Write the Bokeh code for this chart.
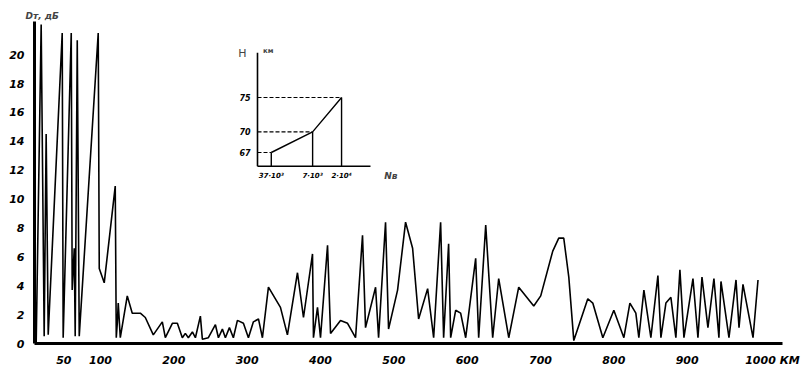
from bokeh.plotting import figure
from bokeh.models import Range1d, FixedTicker, Label
from bokeh.embed import file_html
from bokeh.resources import INLINE
from bokeh.core.properties import value

# ---- main series: distance (km) vs level (dB) ----
dist_km = [12.3, 19.1, 23.2, 25.9, 28.7, 47.8, 49.1, 60.1, 61.4, 64.2,
           65.5, 68.3, 71.0, 96.9, 98.3, 105.1, 120.1, 121.5, 122.9, 124.2,
           127.0, 136.5, 143.3, 154.3, 161.1, 172.0, 184.3, 188.4, 198.0, 204.8,
           211.6, 215.7, 219.8, 225.3, 229.4, 236.2, 238.9, 247.1, 256.7, 260.8,
           266.2, 270.3, 275.8, 281.2, 286.7, 294.9, 301.7, 308.5, 315.4, 320.8,
           329.0, 345.4, 354.9, 368.6, 376.8, 389.1, 390.4, 395.9, 400.0, 409.6,
           413.7, 427.3, 436.9, 447.8, 457.3, 461.4, 475.1, 479.2, 488.7, 492.8,
           505.1, 516.0, 525.6, 533.8, 546.1, 554.3, 563.8, 567.9, 574.7, 577.5,
           584.3, 591.1, 598.0, 611.6, 615.7, 625.3, 634.8, 643.0, 656.7, 670.3,
           690.8, 700.3, 716.7, 724.9, 731.7, 738.6, 745.4, 764.5, 771.3, 785.0,
           800.0, 813.7, 821.9, 830.0, 834.1, 841.0, 850.5, 860.1, 864.2, 871.0,
           877.8, 884.6, 890.1, 895.6, 907.9, 914.7, 920.2, 928.3, 936.5, 943.3,
           946.1, 957.0, 966.6, 970.7, 976.1, 989.8, 996.6]
level_db = [0, 22.1, 0.5, 14.5, 0.6, 21.5, 0.4, 21.5, 3.7, 6.6,
            0.5, 21.0, 0.5, 21.5, 5.2, 4.2, 10.9, 0.4, 1.4, 2.8,
            0.4, 3.3, 2.1, 2.1, 1.8, 0.6, 1.5, 0.4, 1.4, 1.4,
            0.4, 0.7, 0.4, 0.8, 0.4, 1.9, 0.3, 0.4, 1.3, 0.4,
            1.0, 0.4, 1.1, 0.4, 1.6, 1.4, 0.4, 1.5, 1.7, 0.4,
            3.9, 2.5, 0.6, 4.9, 1.8, 6.2, 0.4, 2.5, 0.4, 6.8,
            0.7, 1.6, 1.4, 0.4, 7.5, 1.1, 3.9, 0.4, 8.4, 1.0,
            3.7, 8.4, 6.6, 1.7, 3.8, 0.4, 8.4, 0.4, 6.9, 0.4,
            2.3, 2.1, 0.4, 5.9, 0.4, 8.2, 0.4, 4.5, 0.4, 3.9,
            2.6, 3.3, 6.4, 7.3, 7.3, 4.6, 0.2, 3.1, 2.8, 0.4,
            2.3, 0.4, 2.8, 2.1, 0.4, 3.7, 0.4, 4.7, 0.4, 2.8,
            3.2, 0.4, 5.1, 0.4, 4.5, 0.4, 4.6, 1.1, 4.5, 0.4,
            4.3, 0.4, 4.4, 1.1, 4.1, 0.4, 4.4]

x_ticks = [50, 100, 200, 300, 400, 500, 600, 700, 800, 900, 1000]
y_ticks = [0, 2, 4, 6, 8, 10, 12, 14, 16, 18, 20]
x_unit = "КМ"
x_unit_pos = 1040
y_title = "Dт, дБ"

# ---- inset: height H (km) vs Nв ----
inset_h = [67, 70, 75]
inset_n_pos = [0.5, 2.0, 3.05]
inset_n_labels = ["37·10³", "7·10³", "2·10⁴"]
inset_h_labels = ["67", "70", "75"]
inset_h_title = "H"
inset_h_unit = "км"
inset_n_title = "Nв"

FONT = "DejaVu Sans"

W, H = 801, 373
BL, BR, BT, BB = 34, 8, 21, 30
x0, x1, x_axis_end = 10, 1045, 1030
y0, y1 = 0, 22.3

p = figure(width=W, height=H, output_backend="svg", toolbar_location=None,
           x_range=Range1d(x0, x1), y_range=Range1d(y0, y1),
           min_border_left=BL, min_border_right=BR,
           min_border_top=BT, min_border_bottom=BB,
           background_fill_color="white", border_fill_color="white")
p.outline_line_color = None
p.grid.visible = False

p.title.text = y_title
p.title.align = "left"
p.title.offset = -9
p.title.standoff = 2
p.title.text_font = FONT
p.title.text_font_style = "bold italic"
p.title.text_font_size = "9px"

p.xaxis.ticker = FixedTicker(ticks=x_ticks + [x_unit_pos])
p.xaxis.major_label_overrides = {x_unit_pos: x_unit}
p.xaxis.bounds = (x0, x_axis_end)
p.yaxis.ticker = FixedTicker(ticks=y_ticks)
for ax in (p.xaxis, p.yaxis):
    ax.axis_line_width = 3
    ax.axis_line_color = "black"
    ax.major_tick_line_color = None
    ax.minor_tick_line_color = None
    ax.major_label_text_font = FONT
    ax.major_label_text_font_style = "bold italic"
    ax.major_label_text_font_size = "11px"
    ax.major_label_text_color = "black"
p.xaxis.major_label_standoff = 4
p.yaxis.major_label_standoff = 4

p.line(dist_km, level_db, line_color="black", line_width=1.6)

# ---- inset placed via extra ranges ----
frame_w = W - BL - BR
frame_h = H - BT - BB
ix_origin_px, ix_scale = 257 - BL, 27.56               # px from frame left, px per unit
iy_ref_px, iy_ref_val, iy_scale = 343 - 152, 67, 6.875  # px above frame bottom
p.extra_x_ranges = {"ix": Range1d(-ix_origin_px / ix_scale,
                                  (frame_w - ix_origin_px) / ix_scale)}
p.extra_y_ranges = {"iy": Range1d(iy_ref_val - iy_ref_px / iy_scale,
                                  iy_ref_val + (frame_h - iy_ref_px) / iy_scale)}
h_base, h_top, n_end = 65.0, 81.5, 4.1
kw = dict(x_range_name="ix", y_range_name="iy")

p.segment(x0=[0, 0], y0=[h_base, h_base], x1=[0, n_end], y1=[h_top, h_base],
          line_color="black", line_width=1.6, **kw)
p.segment(x0=[0] * len(inset_h), y0=inset_h, x1=inset_n_pos, y1=inset_h,
          line_color="black", line_width=1.1, line_dash="4 2", **kw)
p.segment(x0=inset_n_pos, y0=[h_base] * len(inset_h), x1=inset_n_pos, y1=inset_h,
          line_color="black", line_width=1.4, **kw)
p.line(inset_n_pos, inset_h, line_color="black", line_width=1.4, **kw)

p.text(x=[-0.25] * len(inset_h), y=inset_h, text=inset_h_labels,
       text_font=value(FONT), text_font_style="bold italic", text_font_size="8px",
       text_align="right", text_baseline="middle", **kw)
p.text(x=inset_n_pos, y=[h_base - 1.35] * len(inset_h), text=inset_n_labels,
       text_font=value(FONT), text_font_style="bold italic", text_font_size="7px",
       text_align="center", text_baseline="middle", **kw)
p.add_layout(Label(x=-0.55, y=81.4, text=inset_h_title, text_font=FONT,
                   text_font_size="11px", text_align="center",
                   text_baseline="middle", **kw))
p.add_layout(Label(x=0.2, y=81.7, text=inset_h_unit, text_font=FONT,
                   text_font_style="bold", text_font_size="7px",
                   text_align="left", text_baseline="middle", **kw))
p.add_layout(Label(x=4.6, y=63.6, text=inset_n_title, text_font=FONT,
                   text_font_style="bold italic", text_font_size="9px",
                   text_align="left", text_baseline="middle", **kw))

open("out.html", "w").write(file_html(p, INLINE))
